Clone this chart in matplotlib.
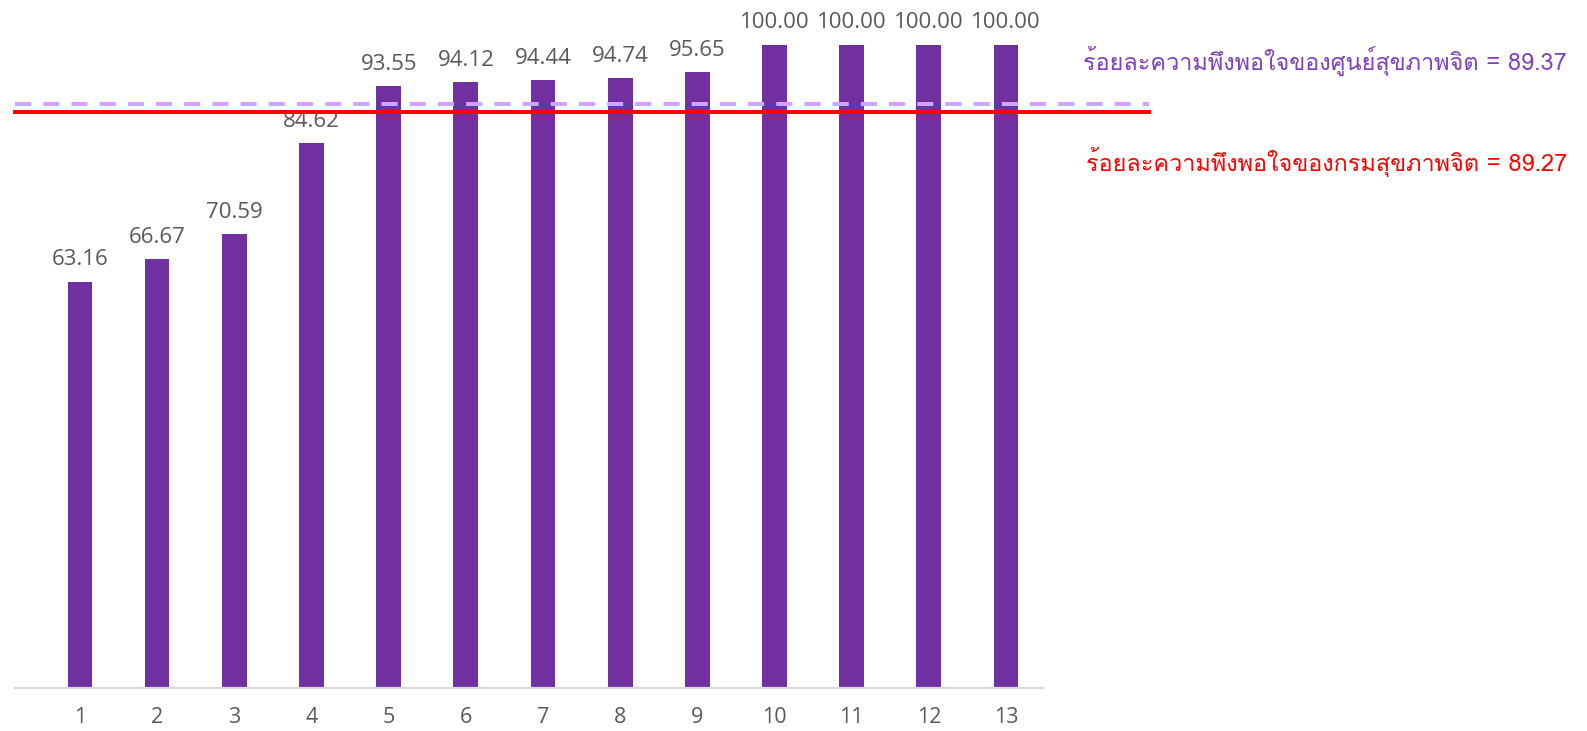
import matplotlib
matplotlib.use("Agg")
import matplotlib.pyplot as plt
from matplotlib import font_manager
from matplotlib.ft2font import FT2Font

categories = ["1", "2", "3", "4", "5", "6", "7", "8", "9", "10", "11", "12", "13"]
values = [63.16, 66.67, 70.59, 84.62, 93.55, 94.12, 94.44, 94.74, 95.65, 100.00, 100.00, 100.00, 100.00]
center_label = "ร้อยละความพึงพอใจของศูนย์สุขภาพจิต = 89.37"
dept_label = "ร้อยละความพึงพอใจของกรมสุขภาพจิต = 89.27"
center_line_level = 90.75
dept_line_level = 89.45

# find a font with Thai glyphs
thai_family = None
for f in font_manager.fontManager.ttflist:
    try:
        ft = FT2Font(f.fname)
        cm = ft.get_charmap()
        if 0x0E23 in cm and 0x0E49 in cm:
            thai_family = f.name
            break
    except Exception:
        pass
thai_fams = ([thai_family] if thai_family else []) + ["DejaVu Sans"]

W, H = 1587, 731
fig = plt.figure(figsize=(W / 100, H / 100), dpi=100)
left_px, right_px, base_px, top_px = 15, 1043, 688, 10
ax = fig.add_axes([left_px / W, (H - base_px) / H, (right_px - left_px) / W, (base_px - top_px) / H])

x = list(range(1, len(values) + 1))
ax.bar(x, values, width=0.32, color="#7030A0", zorder=2)

ppx = 77.2  # pixels per category
ax.set_xlim(1 - (80 - left_px) / ppx, 13 + (right_px - 1006) / ppx)
ax.set_ylim(0, 100 * (base_px - top_px) / 643.5)

for xi, v in zip(x, values):
    ax.annotate(f"{v:.2f}", (xi, v), xytext=(0, 8), textcoords="offset points",
                ha="center", va="bottom", fontsize=16, color="#595959",
                family="Open Sans", zorder=1)

x_end = 13 + (1149 - 1006) / ppx
x0 = ax.get_xlim()[0]
ax.plot([x0, x_end], [center_line_level] * 2, color="#D7A0F9", lw=2.9,
        linestyle=(0, (4, 3)), clip_on=False, zorder=3)
ax.plot([x0, x_end], [dept_line_level] * 2, color="#FF0000", lw=2.9,
        clip_on=False, zorder=3)

fig.text(1567 / W, 1 - 61 / H, center_label, ha="right", va="center",
         fontsize=16.9, color="#7F3FBF", family=thai_fams)
fig.text(1567 / W, 1 - 162 / H, dept_label, ha="right", va="center",
         fontsize=16.9, color="#FF0000", family=thai_fams)

ax.set_xticks(x)
ax.set_xticklabels(categories, fontsize=15.5, color="#595959", family="Open Sans")
ax.tick_params(axis="x", length=0, pad=14)
ax.set_yticks([])
for s in ["top", "right", "left"]:
    ax.spines[s].set_visible(False)
ax.spines["bottom"].set_color("#D9D9D9")
ax.spines["bottom"].set_linewidth(1.6)

fig.savefig("out.png", dpi=100)
